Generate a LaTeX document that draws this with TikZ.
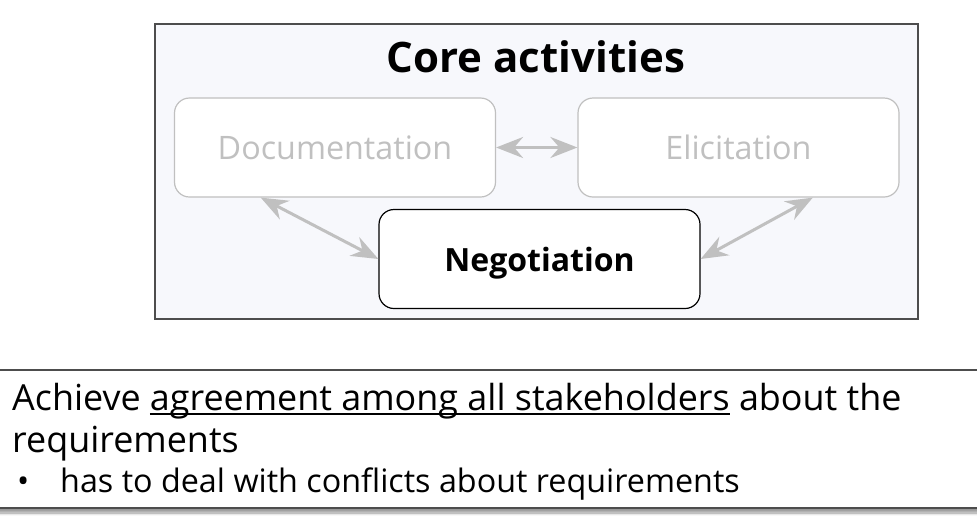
\documentclass[tikz,border=0pt]{standalone}
\usepackage{fontspec}
\setmainfont{Open Sans}
\usetikzlibrary{arrows.meta,shadows.blur}
\definecolor{panelbg}{HTML}{F7F8FC}
\definecolor{dimgray}{HTML}{C0C0C0}
\definecolor{framegray}{HTML}{4D4D4D}
\newcommand{\ulpart}[1]{\setbox0\hbox{#1}\rlap{\rule[-5pt]{\wd0}{1.8pt}}{\box0}}
\begin{document}
\begin{tikzpicture}[x=1pt,y=-1pt,
    activity/.style={draw=dimgray,line width=1.2pt,fill=white,rounded corners=15pt,minimum width=321pt,minimum height=99pt,text=dimgray,font=\fontsize{32.3}{38}\selectfont},
    focus/.style={activity,draw=black,text=black,text depth=0pt,font=\fontsize{32}{38}\selectfont\bfseries},
    link/.style={draw=dimgray,line width=3pt,{Stealth[length=27pt,width=21pt,inset=9pt]}-{Stealth[length=27pt,width=21pt,inset=9pt]}},
    notetext/.style={anchor=base west,inner sep=0pt,font=\fontsize{35.9}{43}\selectfont},
    itemtext/.style={notetext,font=\fontsize{32.3}{39}\selectfont}]
  \useasboundingbox (0,0) rectangle (977,515);

  % core activities panel
  \node[draw=framegray,fill=panelbg,line width=1.2pt,minimum width=763pt,minimum height=295pt] (panel) at (536.5,171.5) {};
  \node[font=\fontsize{42}{50}\selectfont\bfseries] (title) at (536,57) {Core activities};
  \node[activity] (doc) at (335,147.5) {Documentation};
  \node[activity] (eli) at (738.5,147.5) {Elicitation};
  \node[focus] (neg) at (539.5,259) {Negotiation};

  \draw[link] (doc.east) -- (eli.west);
  \draw[link] (doc.214) -- (neg.west);
  \draw[link] (eli.-34) -- (neg.east);

  % note below
  \node[draw=framegray,fill=white,line width=1.5pt,minimum width=1000pt,minimum height=138pt,
        blur shadow={shadow xshift=3pt,shadow yshift=-5pt,shadow blur radius=3pt}] (note) at (488.5,439) {};
  \node[notetext] (aim) at (12,410) {Achieve \ulpart{agreement among all stakeholders} about the};
  \node[notetext] (aimrest) at (12,452) {requirements};
  \node[itemtext] (dot) at (17,492) {\textbullet};
  \node[itemtext] (conflict) at (60,492) {has to deal with conflicts about requirements};
\end{tikzpicture}
\end{document}
